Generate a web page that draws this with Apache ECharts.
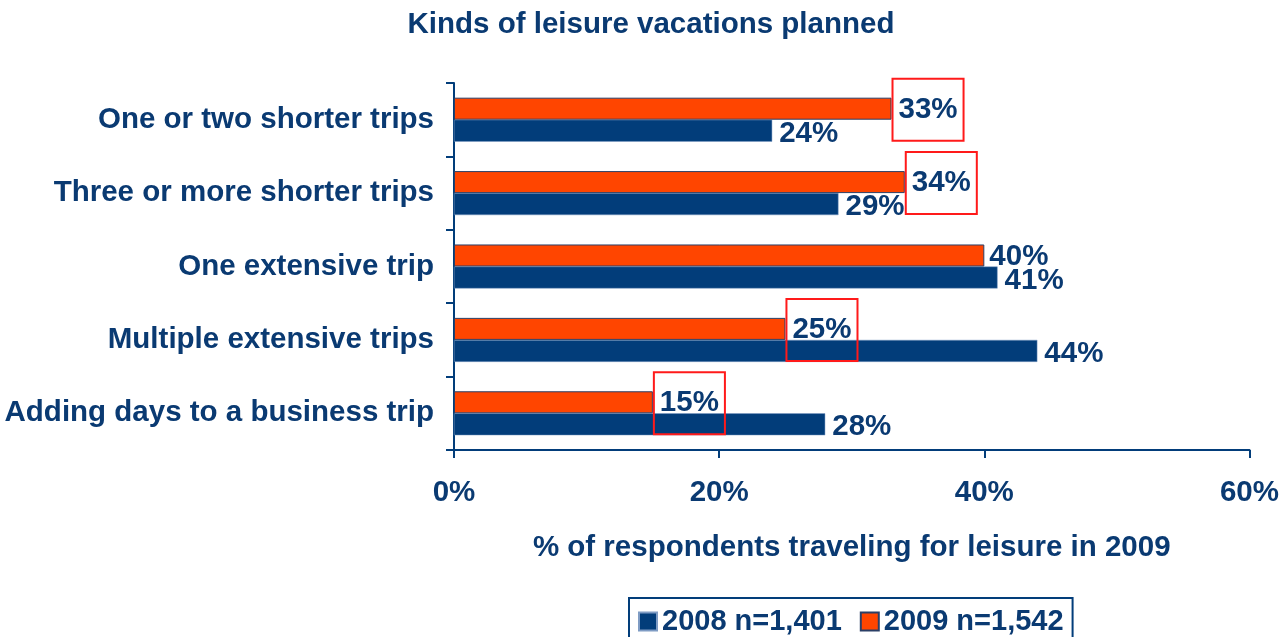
<!DOCTYPE html>
<html><head><meta charset="utf-8">
<script src="https://cdn.jsdelivr.net/npm/echarts@6/dist/echarts.min.js"></script>
<style>html,body{margin:0;padding:0;background:#fff}#c{width:1282px;height:637px}</style>
</head><body><div id="c"></div>
<script>
const title = 'Kinds of leisure vacations planned';
const categories = ['One or two shorter trips','Three or more shorter trips','One extensive trip','Multiple extensive trips','Adding days to a business trip'];
const values2008 = [24, 29, 41, 44, 28];
const values2009 = [33, 34, 40, 25, 15];
const boxed2009 = [true, true, false, true, true];
const seriesNames = ['2008 n=1,401', '2009 n=1,542'];
const xTicks = [0, 20, 40, 60];
const axisTitle = '% of respondents traveling for leisure in 2009';

const NAVY = '#023d7a', ORANGE = '#ff4500', TXT = '#0a3a72';
const FONT = '"Liberation Sans", Arial, sans-serif';
const FS = 29.5;

const chart = echarts.init(document.getElementById('c'));
chart.setOption({
  animation: false,
  backgroundColor: '#fff',
  title: { text: title, left: 646, top: 5, textAlign: 'center',
    textStyle: { fontFamily: FONT, fontWeight: 'bold', fontSize: FS, color: TXT } },
  legend: {
    data: seriesNames, left: 629, top: 598, orient: 'horizontal', icon: 'rect',
    itemWidth: 18, itemHeight: 18, itemGap: 18,
    borderColor: NAVY, borderWidth: 2, padding: [9, 9, 20, 9],
    textStyle: { fontFamily: FONT, fontWeight: 'bold', fontSize: 29, color: TXT }
  },
  grid: { left: 454, right: 32, top: 83, bottom: 187, containLabel: false },
  xAxis: {
    type: 'value', min: xTicks[0], max: xTicks[xTicks.length-1], interval: 20,
    axisLine: { show: true, lineStyle: { color: NAVY, width: 2 } },
    axisTick: { show: true, length: 8, lineStyle: { color: NAVY, width: 2 } },
    splitLine: { show: false },
    axisLabel: { formatter: '{value}%', margin: 28, fontFamily: FONT, fontWeight: 'bold', fontSize: FS, color: TXT },
    name: axisTitle, nameLocation: 'middle', nameGap: 83,
    nameTextStyle: { fontFamily: FONT, fontWeight: 'bold', fontSize: FS, color: TXT }
  },
  yAxis: {
    type: 'category', data: categories, inverse: true,
    axisLine: { show: true, lineStyle: { color: NAVY, width: 2 } },
    axisTick: { show: true, length: 8, lineStyle: { color: NAVY, width: 2 } },
    axisLabel: { margin: 20, fontFamily: FONT, fontWeight: 'bold', fontSize: FS, color: TXT }
  },
  series: [
    { name: seriesNames[1], type: 'bar', barCategoryGap: '40%', barGap: '0%',
      itemStyle: { color: ORANGE, borderColor: '#2b3f66', borderWidth: 1 },
      label: { show: true, position: 'right', distance: 5, formatter: '{c}%', offset: [0, 1],
        fontFamily: FONT, fontWeight: 'bold', fontSize: FS, color: TXT },
      data: values2009.map((v, i) => boxed2009[i]
        ? { value: v, label: { borderColor: '#ff1a1a', borderWidth: 2, padding: [16, 6, 16, 6], distance: 1 } }
        : v), z: 3 },
    { name: seriesNames[0], type: 'bar', barCategoryGap: '40%', barGap: '0%',
      itemStyle: { color: NAVY, borderColor: '#7f9cc4', borderWidth: 0.5 },
      label: { show: true, position: 'right', distance: 7, formatter: '{c}%', offset: [0, 3],
        fontFamily: FONT, fontWeight: 'bold', fontSize: FS, color: TXT },
      data: values2008, z: 2 }
  ]
});
</script></body></html>
